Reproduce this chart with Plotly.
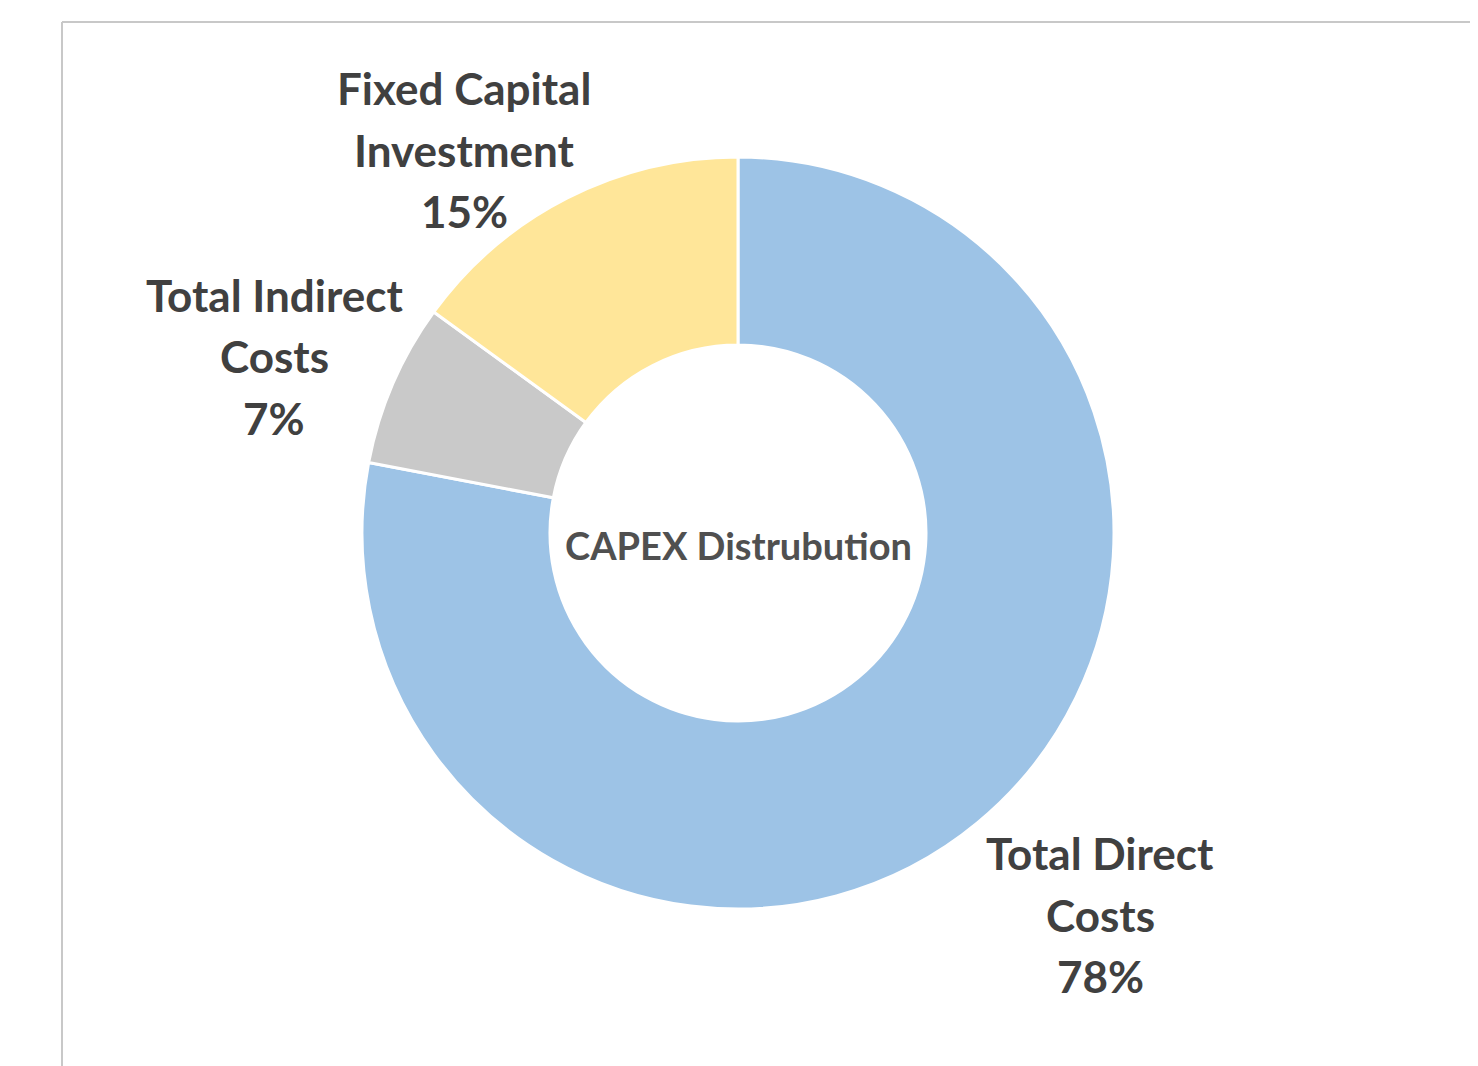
import plotly.graph_objects as go

W, H = 1478, 1066
OFF = 8  # page body margin offset

categories = ["Total Direct Costs", "Total Indirect Costs", "Fixed Capital Investment"]
label_lines = [["Total Direct", "Costs"], ["Total Indirect", "Costs"], ["Fixed Capital", "Investment"]]
shares = [78, 7, 15]
colors = ["#9DC3E6", "#C9C9C9", "#FFE699"]
center_title = "CAPEX Distrubution"

# label anchor positions (pixel centre x, first line y) in screenshot coords
label_pos = [(1100, 853), (274, 295), (464, 88)]
line_gap = 61.5

cx, cy, r = 738 - OFF, 533 - OFF, 376

fig = go.Figure()
fig.add_trace(go.Pie(
    labels=categories,
    values=shares,
    hole=0.5,
    sort=False,
    direction="clockwise",
    rotation=0,
    marker=dict(colors=colors, line=dict(color="white", width=3)),
    textinfo="none",
    hoverinfo="label+percent",
    showlegend=False,
    domain=dict(x=[(cx - r) / W, (cx + r) / W], y=[1 - (cy + r) / H, 1 - (cy - r) / H]),
))

font_lab = dict(family="Lato", size=44, color="#404040")
annotations = []
for lines, v, (px, py) in zip(label_lines, shares, label_pos):
    for i, t in enumerate(lines + [f"{v}%"]):
        annotations.append(dict(
            text=f"<b>{t}</b>", x=(px - OFF) / W, y=1 - (py - OFF + i * line_gap) / H,
            xref="paper", yref="paper", xanchor="center", yanchor="middle",
            showarrow=False, font=font_lab,
        ))
annotations.append(dict(
    text=f"<b>{center_title}</b>", x=cx / W, y=1 - (545 - OFF) / H,
    xref="paper", yref="paper", xanchor="center", yanchor="middle",
    showarrow=False, font=dict(family="Lato", size=38, color="#505050"),
))

fl = (62 - OFF) / W
ft = 1 - (22 - OFF) / H
fig.update_layout(
    width=W, height=H,
    margin=dict(l=0, r=0, t=0, b=0),
    paper_bgcolor="white",
    plot_bgcolor="white",
    annotations=annotations,
    shapes=[
        dict(type="line", xref="paper", yref="paper", x0=fl, x1=1.0, y0=ft, y1=ft,
             line=dict(color="#C8C8C8", width=2)),
        dict(type="line", xref="paper", yref="paper", x0=fl, x1=fl, y0=ft, y1=0,
             line=dict(color="#C8C8C8", width=2)),
    ],
)

fig.write_html("out.html")
